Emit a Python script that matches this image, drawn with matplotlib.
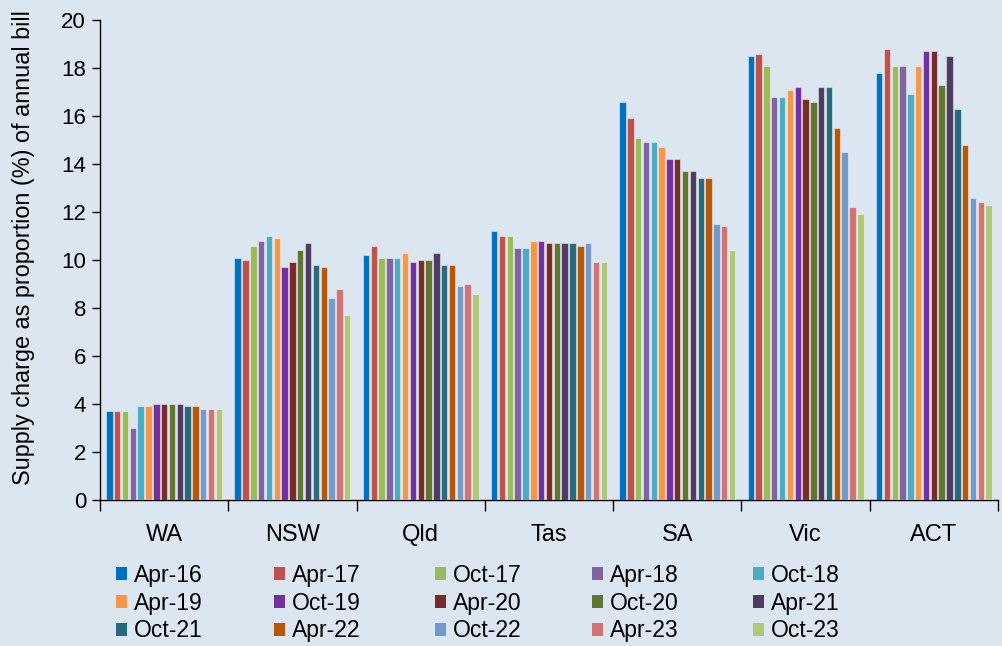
import matplotlib
matplotlib.use("Agg")
import matplotlib.pyplot as plt
import numpy as np
from matplotlib.patches import Patch

states = ["WA", "NSW", "Qld", "Tas", "SA", "Vic", "ACT"]
periods = ["Apr-16", "Apr-17", "Oct-17", "Apr-18", "Oct-18",
           "Apr-19", "Oct-19", "Apr-20", "Oct-20", "Apr-21",
           "Oct-21", "Apr-22", "Oct-22", "Apr-23", "Oct-23"]

# values per state, ordered by period
wa  = [3.7, 3.7, 3.7, 3.0, 3.9, 3.9, 4.0, 4.0, 4.0, 4.0, 3.9, 3.9, 3.8, 3.8, 3.8]
nsw = [10.1, 10.0, 10.6, 10.8, 11.0, 10.9, 9.7, 9.9, 10.4, 10.7, 9.8, 9.7, 8.4, 8.8, 7.7]
qld = [10.2, 10.6, 10.1, 10.1, 10.1, 10.3, 9.9, 10.0, 10.0, 10.3, 9.8, 9.8, 8.9, 9.0, 8.6]
tas = [11.2, 11.0, 11.0, 10.5, 10.5, 10.8, 10.8, 10.7, 10.7, 10.7, 10.7, 10.6, 10.7, 9.9, 9.9]
sa  = [16.6, 15.9, 15.1, 14.9, 14.9, 14.7, 14.2, 14.2, 13.7, 13.7, 13.4, 13.4, 11.5, 11.4, 10.4]
vic = [18.5, 18.6, 18.1, 16.8, 16.8, 17.1, 17.2, 16.7, 16.6, 17.2, 17.2, 15.5, 14.5, 12.2, 11.9]
act = [17.8, 18.8, 18.1, 18.1, 16.9, 18.1, 18.7, 18.7, 17.3, 18.5, 16.3, 14.8, 12.6, 12.4, 12.3]

colors = ["#0070C0", "#C0504D", "#9BBB59", "#8064A2", "#4BACC6",
          "#F79646", "#7030A0", "#772C2A", "#5F7530", "#4D3B62",
          "#276A7C", "#B65708", "#729ACA", "#D07372", "#AFC97A"]

data = np.array([wa, nsw, qld, tas, sa, vic, act])  # shape (7, 15)

bg = "#DCE6F1"
plt.rcParams["font.family"] = ["Liberation Sans", "DejaVu Sans"]

fig = plt.figure(figsize=(10.03, 6.46), dpi=100, facecolor=bg)
ax = fig.add_axes([100/1003, 1-500/646, 898/1003, 480/646], facecolor=bg)

n = len(periods)
span = 0.915
slot = span / n
width = slot * 0.82
x = np.arange(len(states))
for i in range(n):
    offs = -span/2 + slot*(i+0.5)
    ax.bar(x + offs, data[:, i], width=width, color=colors[i],
           edgecolor=(1, 1, 1, 0.45), linewidth=0.8, label=periods[i], zorder=3)

ax.set_xlim(-0.5, len(states)-0.5)
ax.set_ylim(0, 20)
ax.set_yticks(np.arange(0, 21, 2))
ax.set_xticks(x)
ax.set_xticklabels(states)
ax.set_xticks(np.arange(-0.5, len(states), 1.0), minor=True)
ax.tick_params(axis="x", which="major", length=0, labelsize=17, pad=17)
ax.tick_params(axis="x", which="minor", length=8, width=1, direction="out")
ax.tick_params(axis="y", labelsize=16, length=6, width=1, direction="out", pad=4)
for s in ["top", "right"]:
    ax.spines[s].set_visible(False)
ax.spines["left"].set_linewidth(1)
ax.spines["bottom"].set_linewidth(1)
ax.set_ylabel("Supply charge as proportion (%) of annual bill", fontsize=16.8)
ax.yaxis.set_label_coords(-0.072, 0.525)

handles = [Patch(facecolor=colors[i], label=periods[i]) for i in range(n)]
col_x = [116, 274, 435, 592, 753]
for c in range(5):
    idx = [c + 5*r for r in range(3)]
    lg = fig.legend([handles[k] for k in idx], [periods[k] for k in idx],
                    ncol=1, loc="upper left",
                    bbox_to_anchor=(col_x[c]/1003, 1-564/646),
                    frameon=False, fontsize=16.5, handlelength=0.5, handleheight=0.5,
                    handletextpad=0.3, labelspacing=0.2,
                    borderaxespad=0, borderpad=0)

fig.savefig("out.png", dpi=100, facecolor=bg)
